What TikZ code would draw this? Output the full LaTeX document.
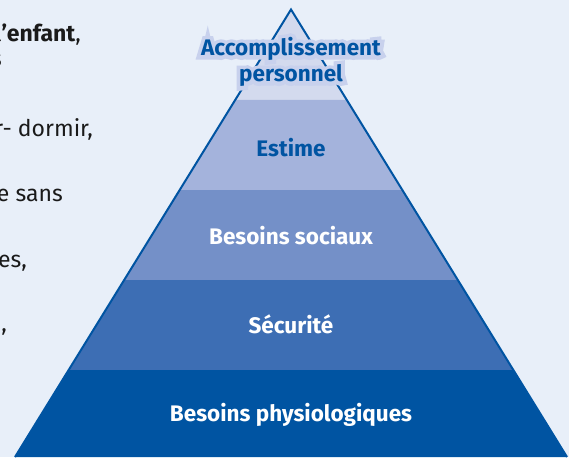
\documentclass[tikz,border=0pt]{standalone}
\usepackage{fontspec}
\setmainfont{Fira Sans}
\newfontfamily\halofont[FakeBold=35]{Fira Sans Bold}
\usetikzlibrary{calc}
\definecolor{bgc}{HTML}{E8EFF9}
\definecolor{lvA}{HTML}{D3DAEE}
\definecolor{lvB}{HTML}{A4B3DC}
\definecolor{lvC}{HTML}{7490C8}
\definecolor{lvD}{HTML}{3D6EB4}
\definecolor{lvE}{HTML}{0054A2}
\definecolor{halo}{HTML}{C8D1ED}
\definecolor{txt}{HTML}{1A1A1A}
\tikzset{
  lbl/.style={font=\fontsize{22.5}{26}\selectfont\bfseries, align=center, inner sep=0pt},
  halolbl/.style={font=\fontsize{22.5}{26}\selectfont\halofont, align=center, inner sep=0pt},
  side/.style={font=\fontsize{23}{27}\selectfont, text=txt, anchor=base east, inner sep=0pt},
}
\begin{document}
\begin{tikzpicture}[x=1pt,y=-1pt]
\useasboundingbox (0,0) rectangle (569,457);
\fill[bgc] (0,0) rectangle (569,457);
\clip (0,0) rectangle (569,457);
\coordinate (A) at (291,9.5);
\coordinate (BL) at (15,457);
\coordinate (BR) at (567,457);
\coordinate (L1) at ($(A)!0.2022!(BL)$); \coordinate (R1) at ($(A)!0.2022!(BR)$);
\coordinate (L2) at ($(A)!0.4034!(BL)$); \coordinate (R2) at ($(A)!0.4034!(BR)$);
\coordinate (L3) at ($(A)!0.6045!(BL)$); \coordinate (R3) at ($(A)!0.6045!(BR)$);
\coordinate (L4) at ($(A)!0.8056!(BL)$); \coordinate (R4) at ($(A)!0.8056!(BR)$);
\fill[lvA] (A) -- (L1) -- (R1) -- cycle;
\fill[lvB] (L1) -- (L2) -- (R2) -- (R1) -- cycle;
\fill[lvC] (L2) -- (L3) -- (R3) -- (R2) -- cycle;
\fill[lvD] (L3) -- (L4) -- (R4) -- (R3) -- cycle;
\fill[lvE] (L4) -- (BL) -- (BR) -- (R4) -- cycle;
\draw[lvE, line width=2pt, line join=miter] (BL) -- (A) -- (BR);
\node[halolbl, text=halo] (acch) at (291,62) {Accomplissement\\personnel};
\node[lbl, text=lvE] (acc) at (291,62) {Accomplissement\\personnel};
\node[lbl, text=lvE] (est) at (291,148) {Estime};
\node[lbl, text=white] (soc) at (291,236) {Besoins sociaux};
\node[lbl, text=white] (sec) at (291,324) {Sécurité};
\node[lbl, text=white] (phy) at (291,415) {Besoins physiologiques};
% cut-off text on the left
\node[side] (t1) at (81,42) {l\textbf{’enfant},};
\node[side] (t2) at (2,67) {s};
\node[side] (t3) at (93,137) {r- dormir,};
\node[side] (t4) at (63,201) {e sans};
\node[side] (t5) at (27,267) {es,};
\node[side] (t6) at (7,331) {,};
\end{tikzpicture}
\end{document}
